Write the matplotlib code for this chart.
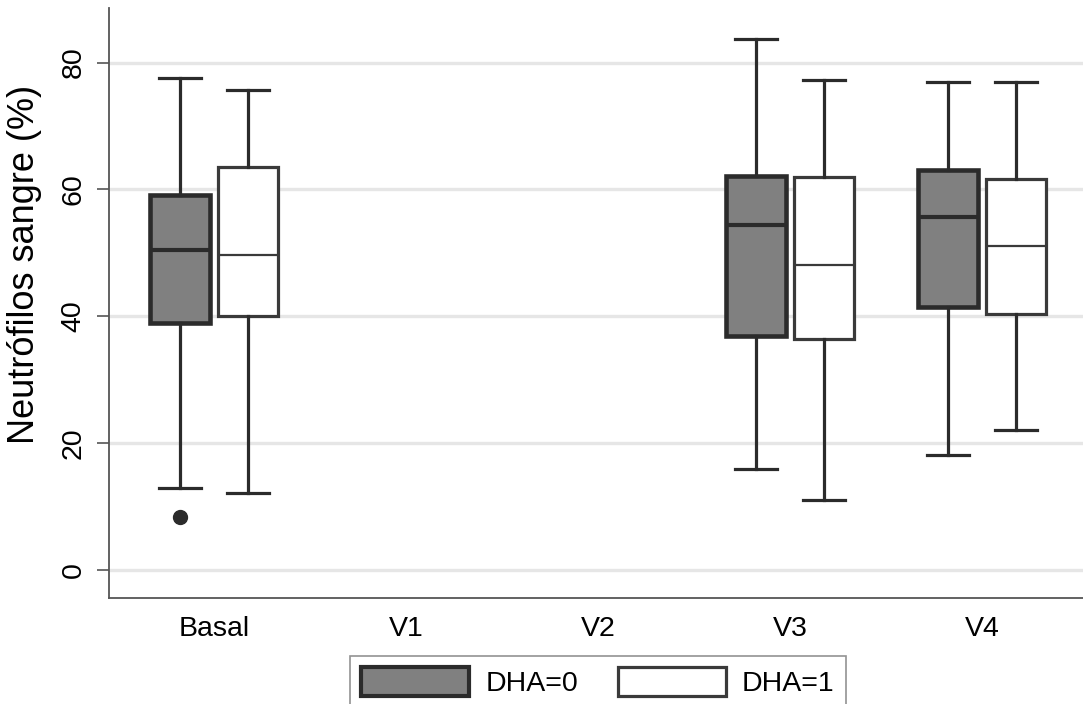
import matplotlib.pyplot as plt
from matplotlib.patches import Patch

plt.rcParams['font.family'] = ['Liberation Sans', 'DejaVu Sans']

# Visitas y grupos
visitas = ['Basal', 'V1', 'V2', 'V3', 'V4']
grupos = ['DHA=0', 'DHA=1']

# Resumen de cajas por visita (None = sin datos)
# orden: minimo bigote, Q1, mediana, Q3, maximo bigote
dha0_whislo = [13.0, None, None, 16.0, 18.2]
dha0_q1 = [39.0, None, None, 36.9, 41.5]
dha0_med = [50.4, None, None, 54.4, 55.7]
dha0_q3 = [59.1, None, None, 62.1, 63.1]
dha0_whishi = [77.6, None, None, 83.7, 76.9]
dha0_fliers = [[8.4], [], [], [], []]

dha1_whislo = [12.1, None, None, 11.1, 22.1]
dha1_q1 = [40.0, None, None, 36.4, 40.3]
dha1_med = [49.6, None, None, 48.1, 51.1]
dha1_q3 = [63.6, None, None, 62.0, 61.6]
dha1_whishi = [75.7, None, None, 77.2, 76.9]
dha1_fliers = [[], [], [], [], []]

dark = '#2b2b2b'
edge1 = '#3a3a3a'
fs = 20.5


def make_stats(lo, q1, med, q3, hi, fliers):
    stats, pos = [], []
    for i in range(len(visitas)):
        if med[i] is None:
            continue
        stats.append({'whislo': lo[i], 'q1': q1[i], 'med': med[i],
                      'q3': q3[i], 'whishi': hi[i], 'fliers': fliers[i]})
        pos.append(i + 1)
    return stats, pos


fig = plt.figure(figsize=(10.83, 7.04), dpi=100)
ax = fig.add_axes([109 / 1083, 1 - 598 / 704, 1 - 109 / 1083, (598 - 8) / 704])

offset = 0.178
width = 0.31
capw = 0.22

s0, p0 = make_stats(dha0_whislo, dha0_q1, dha0_med, dha0_q3, dha0_whishi, dha0_fliers)
ax.bxp(s0, positions=[p - offset for p in p0], widths=width, capwidths=capw,
       patch_artist=True, manage_ticks=False,
       boxprops=dict(facecolor='#808080', edgecolor=dark, linewidth=3.3),
       medianprops=dict(color=dark, linewidth=3.0),
       whiskerprops=dict(color=dark, linewidth=2.3),
       capprops=dict(color=dark, linewidth=2.3),
       flierprops=dict(marker='o', markerfacecolor=dark, markeredgecolor=dark,
                       markersize=10))

s1, p1 = make_stats(dha1_whislo, dha1_q1, dha1_med, dha1_q3, dha1_whishi, dha1_fliers)
ax.bxp(s1, positions=[p + offset for p in p1], widths=width, capwidths=capw,
       patch_artist=True, manage_ticks=False,
       boxprops=dict(facecolor='white', edgecolor=edge1, linewidth=2.3),
       medianprops=dict(color=edge1, linewidth=1.6),
       whiskerprops=dict(color=dark, linewidth=2.3),
       capprops=dict(color=dark, linewidth=2.3),
       flierprops=dict(marker='o', markerfacecolor=dark, markeredgecolor=dark,
                       markersize=10))

ax.set_xlim(0.453, 5.526)
ax.set_ylim(-4.4, 88.6)
ax.set_xticks(range(1, len(visitas) + 1))
ax.set_xticklabels(visitas, fontsize=fs)
ax.tick_params(axis='x', length=0, pad=13)
ax.set_yticks([0, 20, 40, 60, 80])
ax.set_yticklabels(['0', '20', '40', '60', '80'], fontsize=fs, rotation=90, va='center')
ax.tick_params(axis='y', length=9, width=1.2, color='#555555', pad=7)

ax.grid(axis='y', color='#e6e6e6', linewidth=2.4)
ax.set_axisbelow(True)
for side in ['top', 'right']:
    ax.spines[side].set_visible(False)
for side in ['left', 'bottom']:
    ax.spines[side].set_color('#555555')
    ax.spines[side].set_linewidth(1.3)

ax.set_ylabel('Neutrófilos sangre (%)', fontsize=26)
ax.yaxis.set_label_coords(-0.069, 0.565)

handles = [Patch(facecolor='#808080', edgecolor=dark, linewidth=3.0),
           Patch(facecolor='white', edgecolor=edge1, linewidth=2.3)]
leg = fig.legend(handles, grupos, loc='upper center',
                 bbox_to_anchor=(0.552, 1 - 656 / 704), ncol=2, fontsize=fs,
                 frameon=True, fancybox=False, edgecolor='#777777',
                 handlelength=3.8, handleheight=1.15, handletextpad=0.56,
                 columnspacing=1.4, borderpad=0.4, borderaxespad=0)
leg.get_frame().set_linewidth(1.2)

fig.savefig('out.png', dpi=100)
